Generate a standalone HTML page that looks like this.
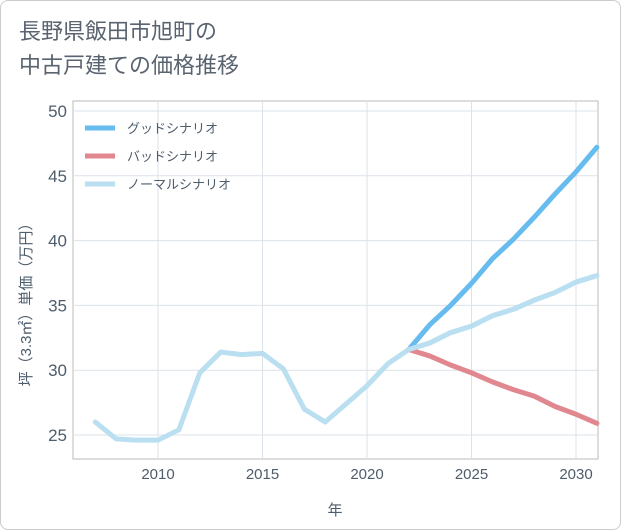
<!DOCTYPE html>
<html><head><meta charset="utf-8"><style>
body{margin:0;background:#fff;font-family:"Liberation Sans","Noto Sans CJK JP",sans-serif;}
#wrap{position:relative;width:619px;height:528px;border:1px solid #ccc;border-radius:8px;overflow:hidden;}
#title{position:absolute;left:18px;top:14px;font-size:22px;line-height:34px;color:#5a6470;}
svg{position:absolute;left:0;top:0;}
</style></head><body>
<div id="wrap">
<div id="title">長野県飯田市旭町の<br>中古戸建ての価格推移</div>
<svg id="c" width="621" height="530"></svg>
</div>
<script>
const normalYears=[2007,2008,2009,2010,2011,2012,2013,2014,2015,2016,2017,2018,2019,2020,2021,2022,2023,2024,2025,2026,2027,2028,2029,2030,2031];
const normalVals=[26.0,24.7,24.6,24.6,25.4,29.8,31.4,31.2,31.3,30.1,27.0,26.0,27.4,28.8,30.5,31.6,32.1,32.9,33.4,34.2,34.7,35.4,36.0,36.8,37.3];
const futureYears=[2022,2023,2024,2025,2026,2027,2028,2029,2030,2031];
const goodVals=[31.6,33.5,35.0,36.7,38.6,40.1,41.8,43.6,45.3,47.2];
const badVals=[31.6,31.1,30.4,29.8,29.1,28.5,28.0,27.2,26.6,25.9];
const xTicks=[2010,2015,2020,2025,2030];
const yTicks=[25,30,35,40,45,50];
const NS="http://www.w3.org/2000/svg";
const svg=document.getElementById('c');
const L=72,R=597,T=100,B=458;
const x=v=>157+(v-2010)*20.9;
const y=v=>434-(v-25)*12.96;
function mk(t,a,p){const e=document.createElementNS(NS,t);for(const k in a)e.setAttribute(k,a[k]);(p||svg).appendChild(e);return e;}
mk('rect',{x:L,y:T,width:R-L,height:B-T,fill:'#fff',stroke:'#bbb'});
xTicks.forEach(t=>{
const g=mk('line',{x1:x(t),x2:x(t),y1:T,y2:B,stroke:'#dbe2ea'});


const tx=mk('text',{x:x(t),y:478,'text-anchor':'middle','font-size':15,fill:'#4e5d6c'});
tx.textContent=t;


});
yTicks.forEach(t=>{
const g=mk('line',{x1:L,x2:R,y1:y(t),y2:y(t),stroke:'#dbe2ea'});


const tx=mk('text',{x:66,y:y(t)+6,'text-anchor':'end','font-size':17,fill:'#4e5d6c'});
tx.textContent=t;


});
const xt=mk('text',{x:334,y:514,'text-anchor':'middle','font-size':15,fill:'#4e5d6c'});
xt.textContent='年';


const yt=mk('text',{x:0,y:0,'text-anchor':'middle','font-size':15,fill:'#4e5d6c',transform:'translate(30,300) rotate(-90)'});
yt.textContent='坪（3.3㎡）単価（万円）';


function line(xs,vs,color,name){
const p=mk('polyline',{points:xs.map((a,i)=>x(a)+','+y(vs[i])).join(' '),fill:'none',stroke:color,'stroke-width':5,'stroke-linejoin':'round','stroke-linecap':'round'});


}
line(normalYears,normalVals,'#b9dff0','normal-line');
line(futureYears,badVals,'#e0878f','bad-line');
line(futureYears,goodVals,'#66bbef','good-line');
line(futureYears.slice(0),normalVals.slice(15),'#b9dff0','normal-line-future');
const leg=[['グッドシナリオ','#66bbef'],['バッドシナリオ','#e0878f'],['ノーマルシナリオ','#b9dff0']];
leg.forEach((l,i)=>{
const yy=127+i*28;
const s=mk('line',{x1:84,x2:114,y1:yy,y2:yy,stroke:l[1],'stroke-width':5});


const t=mk('text',{x:126,y:yy+5,'font-size':13,fill:'#4e5d6c'});
t.textContent=l[0];


});
</script>
</body></html>
